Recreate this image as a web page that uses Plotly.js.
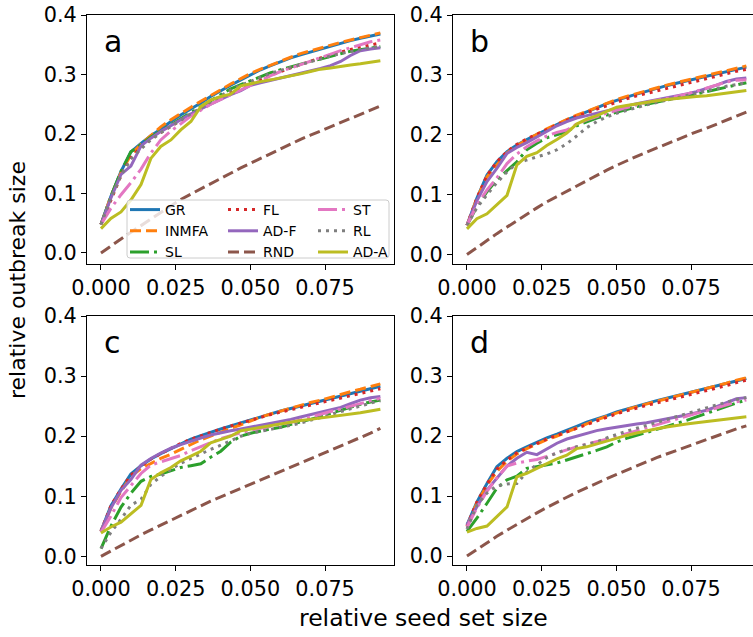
<!DOCTYPE html>
<html>
<head>
<meta charset="utf-8">
<script src="https://cdn.plot.ly/plotly-3.0.1.min.js"></script>
<style>
  html, body { margin: 0; padding: 0; overflow: hidden; background: #fff; }
  #chart { width: 761px; height: 637px; }
</style>
</head>
<body>
<div id="chart"></div>
<script>
// ---------------- DATA ----------------
const SERIES = ['GR', 'INMFA', 'SL', 'FL', 'AD-F', 'RND', 'ST', 'RL', 'AD-A'];
const PANEL_LABELS = ['a', 'b', 'c', 'd'];
const X_TICKS = [0, 0.025, 0.05, 0.075];
const Y_TICKS = [0, 0.1, 0.2, 0.3, 0.4];

// relative seed set size
const X = [0, 0.0033, 0.0067, 0.0100, 0.0134, 0.0167, 0.0200, 0.0234, 0.0267, 0.0301,
           0.0334, 0.0367, 0.0401, 0.0434, 0.0468, 0.0501, 0.0534, 0.0568, 0.0601, 0.0635,
           0.0668, 0.0701, 0.0735, 0.0768, 0.0802, 0.0835, 0.0868, 0.0902, 0.0935];

// panel a
const A_GR    = [0.048,0.095,0.137,0.170,0.184,0.197,0.208,0.221,0.232,0.242,0.252,0.263,0.273,0.282,0.291,0.300,0.308,0.315,0.322,0.328,0.333,0.338,0.343,0.348,0.352,0.357,0.361,0.365,0.368];
const A_INMFA = [0.048,0.095,0.135,0.165,0.183,0.198,0.212,0.224,0.235,0.245,0.255,0.265,0.275,0.284,0.293,0.302,0.309,0.316,0.323,0.329,0.335,0.340,0.345,0.350,0.354,0.358,0.362,0.366,0.370];
const A_SL    = [0.048,0.095,0.137,0.170,0.182,0.195,0.205,0.215,0.226,0.236,0.246,0.256,0.266,0.276,0.283,0.290,0.297,0.303,0.308,0.313,0.318,0.322,0.326,0.331,0.335,0.339,0.342,0.345,0.347];
const A_FL    = [0.048,0.090,0.130,0.160,0.178,0.192,0.203,0.213,0.223,0.233,0.243,0.252,0.261,0.270,0.278,0.285,0.292,0.299,0.305,0.311,0.317,0.323,0.328,0.333,0.338,0.342,0.346,0.350,0.353];
const A_ADF   = [0.048,0.092,0.132,0.146,0.180,0.193,0.204,0.214,0.224,0.234,0.242,0.250,0.258,0.266,0.273,0.282,0.286,0.290,0.293,0.297,0.302,0.306,0.310,0.315,0.322,0.332,0.340,0.343,0.345];
const A_RND   = [0,0.012,0.024,0.035,0.046,0.057,0.068,0.079,0.090,0.099,0.108,0.117,0.126,0.134,0.143,0.151,0.159,0.167,0.175,0.183,0.191,0.198,0.205,0.212,0.219,0.226,0.233,0.240,0.247];
const A_ST    = [0.048,0.075,0.098,0.118,0.141,0.168,0.190,0.205,0.217,0.230,0.240,0.250,0.258,0.266,0.275,0.283,0.290,0.298,0.305,0.311,0.317,0.323,0.329,0.335,0.340,0.345,0.350,0.355,0.358];
const A_RL    = [0.048,0.092,0.130,0.158,0.175,0.190,0.202,0.213,0.224,0.234,0.244,0.254,0.264,0.274,0.282,0.289,0.296,0.302,0.307,0.312,0.317,0.322,0.327,0.331,0.335,0.339,0.342,0.345,0.347];
const A_ADA   = [0.041,0.058,0.069,0.089,0.115,0.159,0.179,0.190,0.207,0.221,0.246,0.257,0.263,0.267,0.281,0.285,0.288,0.291,0.294,0.297,0.301,0.305,0.309,0.311,0.314,0.316,0.318,0.320,0.323];

// panel b
const B_GR    = [0.049,0.094,0.133,0.155,0.172,0.183,0.192,0.200,0.209,0.217,0.225,0.232,0.238,0.245,0.252,0.258,0.263,0.268,0.273,0.277,0.282,0.286,0.290,0.294,0.298,0.302,0.306,0.310,0.313];
const B_INMFA = [0.049,0.094,0.130,0.150,0.170,0.182,0.192,0.201,0.210,0.218,0.226,0.233,0.239,0.246,0.253,0.259,0.264,0.269,0.274,0.278,0.283,0.287,0.291,0.295,0.299,0.303,0.307,0.311,0.315];
const B_SL    = [0.049,0.080,0.105,0.125,0.140,0.155,0.175,0.186,0.195,0.200,0.205,0.215,0.222,0.228,0.233,0.238,0.243,0.247,0.251,0.255,0.258,0.261,0.264,0.268,0.272,0.276,0.280,0.284,0.287];
const B_FL    = [0.049,0.094,0.132,0.155,0.172,0.184,0.193,0.201,0.209,0.217,0.224,0.231,0.237,0.243,0.249,0.255,0.260,0.265,0.269,0.273,0.278,0.282,0.286,0.290,0.294,0.298,0.302,0.306,0.309];
const B_ADF   = [0.049,0.090,0.122,0.144,0.169,0.179,0.187,0.196,0.206,0.215,0.222,0.228,0.232,0.236,0.241,0.245,0.249,0.252,0.255,0.258,0.261,0.264,0.268,0.272,0.277,0.283,0.289,0.293,0.295];
const B_RND   = [0,0.012,0.024,0.035,0.046,0.057,0.068,0.078,0.088,0.097,0.106,0.115,0.124,0.133,0.141,0.149,0.157,0.164,0.171,0.178,0.185,0.192,0.198,0.205,0.211,0.218,0.224,0.231,0.238];
const B_ST    = [0.049,0.082,0.108,0.128,0.152,0.168,0.180,0.190,0.198,0.204,0.208,0.218,0.225,0.231,0.236,0.241,0.246,0.250,0.254,0.257,0.261,0.264,0.268,0.273,0.278,0.283,0.288,0.291,0.292];
const B_RL    = [0.049,0.078,0.100,0.120,0.138,0.152,0.158,0.163,0.168,0.175,0.185,0.198,0.212,0.222,0.230,0.236,0.241,0.246,0.250,0.254,0.258,0.262,0.266,0.270,0.274,0.278,0.281,0.284,0.287];
const B_ADA   = [0.043,0.060,0.068,0.084,0.099,0.150,0.164,0.170,0.182,0.192,0.203,0.218,0.226,0.232,0.239,0.246,0.249,0.252,0.254,0.257,0.259,0.261,0.262,0.264,0.265,0.267,0.269,0.272,0.274];

// panel c
const C_GR    = [0.042,0.084,0.112,0.137,0.151,0.162,0.171,0.179,0.187,0.195,0.201,0.207,0.212,0.217,0.222,0.228,0.233,0.238,0.242,0.246,0.250,0.254,0.258,0.262,0.266,0.270,0.274,0.279,0.283];
const C_INMFA = [0.042,0.080,0.108,0.133,0.146,0.155,0.163,0.170,0.178,0.186,0.194,0.200,0.207,0.213,0.219,0.226,0.232,0.237,0.242,0.247,0.251,0.256,0.260,0.265,0.269,0.274,0.278,0.283,0.287];
const C_SL    = [0.013,0.050,0.082,0.105,0.125,0.133,0.137,0.142,0.148,0.151,0.154,0.165,0.175,0.190,0.200,0.205,0.209,0.212,0.215,0.219,0.223,0.228,0.233,0.238,0.243,0.248,0.253,0.257,0.260];
const C_FL    = [0.042,0.084,0.112,0.135,0.150,0.162,0.171,0.180,0.188,0.195,0.201,0.207,0.212,0.217,0.222,0.227,0.232,0.236,0.240,0.244,0.248,0.252,0.256,0.260,0.264,0.268,0.272,0.276,0.279];
const C_ADF   = [0.042,0.080,0.110,0.128,0.152,0.163,0.172,0.180,0.186,0.192,0.197,0.202,0.206,0.209,0.212,0.215,0.218,0.221,0.225,0.228,0.232,0.236,0.240,0.244,0.248,0.254,0.260,0.264,0.266];
const C_RND   = [0,0.009,0.018,0.027,0.036,0.044,0.052,0.060,0.068,0.076,0.084,0.092,0.099,0.106,0.113,0.120,0.127,0.134,0.141,0.148,0.155,0.162,0.169,0.176,0.183,0.190,0.197,0.205,0.213];
const C_ST    = [0.040,0.067,0.098,0.117,0.138,0.152,0.157,0.162,0.168,0.176,0.183,0.190,0.196,0.201,0.206,0.210,0.213,0.216,0.219,0.223,0.227,0.232,0.237,0.241,0.245,0.250,0.255,0.259,0.263];
const C_RL    = [0.013,0.040,0.062,0.085,0.095,0.120,0.133,0.145,0.155,0.163,0.170,0.178,0.185,0.193,0.200,0.205,0.208,0.211,0.214,0.218,0.222,0.226,0.231,0.236,0.241,0.246,0.251,0.255,0.259];
const C_ADA   = [0.039,0.049,0.057,0.070,0.085,0.128,0.139,0.148,0.159,0.167,0.175,0.189,0.195,0.200,0.209,0.212,0.215,0.218,0.220,0.223,0.226,0.228,0.230,0.232,0.234,0.236,0.239,0.242,0.245];

// panel d
const D_GR    = [0.052,0.090,0.121,0.149,0.163,0.174,0.182,0.190,0.197,0.203,0.209,0.216,0.223,0.228,0.234,0.240,0.245,0.250,0.255,0.259,0.263,0.267,0.271,0.275,0.279,0.283,0.287,0.292,0.296];
const D_INMFA = [0.050,0.088,0.118,0.141,0.158,0.170,0.179,0.187,0.194,0.200,0.207,0.214,0.221,0.227,0.233,0.239,0.244,0.249,0.254,0.258,0.262,0.267,0.271,0.275,0.279,0.284,0.288,0.293,0.297];
const D_SL    = [0.041,0.063,0.088,0.113,0.127,0.133,0.146,0.149,0.152,0.155,0.160,0.165,0.170,0.176,0.182,0.190,0.196,0.201,0.206,0.211,0.216,0.221,0.226,0.232,0.238,0.244,0.250,0.255,0.260];
const D_FL    = [0.050,0.090,0.120,0.145,0.160,0.172,0.180,0.188,0.195,0.201,0.207,0.213,0.220,0.225,0.231,0.237,0.242,0.247,0.251,0.255,0.259,0.263,0.267,0.271,0.275,0.279,0.284,0.289,0.293];
const D_ADF   = [0.052,0.082,0.110,0.130,0.150,0.163,0.173,0.169,0.179,0.188,0.195,0.200,0.205,0.209,0.212,0.215,0.218,0.220,0.222,0.225,0.228,0.231,0.235,0.239,0.243,0.249,0.256,0.262,0.264];
const D_RND   = [0,0.011,0.022,0.033,0.043,0.053,0.063,0.072,0.081,0.090,0.098,0.106,0.114,0.122,0.129,0.136,0.143,0.150,0.157,0.164,0.170,0.176,0.182,0.188,0.194,0.200,0.206,0.212,0.217];
const D_ST    = [0.048,0.080,0.108,0.130,0.150,0.155,0.158,0.161,0.166,0.172,0.177,0.182,0.186,0.190,0.195,0.199,0.204,0.209,0.214,0.219,0.224,0.229,0.234,0.238,0.242,0.247,0.252,0.257,0.260];
const D_RL    = [0.045,0.085,0.105,0.117,0.120,0.121,0.140,0.152,0.164,0.172,0.178,0.182,0.186,0.190,0.197,0.203,0.208,0.213,0.218,0.222,0.227,0.232,0.237,0.242,0.247,0.252,0.257,0.261,0.264];
const D_ADA   = [0.040,0.046,0.050,0.066,0.082,0.132,0.138,0.146,0.154,0.162,0.168,0.179,0.182,0.187,0.191,0.196,0.201,0.205,0.209,0.212,0.215,0.218,0.220,0.222,0.224,0.225,0.227,0.229,0.232];

// ---------------- STYLE / LAYOUT ----------------
const FONT = 'DejaVu Sans';
const W = 761, H = 637;
const COLORS = ['#1f77b4', '#ff7f0e', '#2ca02c', '#d62728', '#9467bd', '#8c564b', '#e377c2', '#7f7f7f', '#bcbd22'];
const DASHES = ['solid', '11px,5px', '19px,5px,3px,5px', '3px,5px', 'solid', '11px,5px', '19px,5px,3px,5px', '3px,5px', 'solid'];
const LEGENDS = ['legend', 'legend', 'legend', 'legend2', 'legend2', 'legend2', 'legend3', 'legend3', 'legend3'];

const PANELS = [
  {ys: [A_GR, A_INMFA, A_SL, A_FL, A_ADF, A_RND, A_ST, A_RL, A_ADA], xa: 'x',  ya: 'y'},
  {ys: [B_GR, B_INMFA, B_SL, B_FL, B_ADF, B_RND, B_ST, B_RL, B_ADA], xa: 'x2', ya: 'y2'},
  {ys: [C_GR, C_INMFA, C_SL, C_FL, C_ADF, C_RND, C_ST, C_RL, C_ADA], xa: 'x3', ya: 'y3'},
  {ys: [D_GR, D_INMFA, D_SL, D_FL, D_ADF, D_RND, D_ST, D_RL, D_ADA], xa: 'x4', ya: 'y4'}
];

const traces = [];
PANELS.forEach((p, pi) => {
  p.ys.forEach((ys, si) => {
    traces.push({
      type: 'scatter', mode: 'lines',
      x: X, y: ys,
      xaxis: p.xa, yaxis: p.ya,
      name: SERIES[si],
      legend: LEGENDS[si],
      showlegend: pi === 0,
      line: {color: COLORS[si], width: 3, dash: DASHES[si]},
      hoverinfo: 'skip'
    });
  });
});

// pixel geometry helpers
const px = v => v / W;
const py = v => 1 - v / H;

const COL_X = [[87, 394.4], [453, 760.4]];
const ROW_Y = [[15, 264], [316, 565]];
const Y_RANGES = [[-0.0185, 0.4], [-0.0157, 0.4], [-0.0143, 0.4], [-0.0149, 0.4]];

function xAxis(col, anchor) {
  return {
    domain: [px(COL_X[col][0]), px(COL_X[col][1])],
    range: [-0.00468, 0.0982],
    anchor: anchor,
    tickmode: 'array', tickvals: X_TICKS, tickformat: '.3f',
    ticks: 'outside', ticklen: 5, tickwidth: 1, tickcolor: '#000',
    showline: true, mirror: true, linecolor: '#000', linewidth: 1,
    showgrid: false, zeroline: false,
    tickfont: {family: FONT, size: 20.8, color: '#000'},
    fixedrange: true
  };
}
function yAxis(row, anchor, rng) {
  return {
    domain: [py(ROW_Y[row][1]), py(ROW_Y[row][0])],
    range: rng,
    anchor: anchor,
    tickmode: 'array', tickvals: Y_TICKS, tickformat: '.1f',
    ticks: 'outside', ticklen: 5, tickwidth: 1, tickcolor: '#000',
    showline: true, mirror: true, linecolor: '#000', linewidth: 1,
    showgrid: false, zeroline: false,
    tickfont: {family: FONT, size: 20.8, color: '#000'},
    fixedrange: true
  };
}

const legendBase = {
  bgcolor: 'rgba(0,0,0,0)', borderwidth: 0,
  font: {family: FONT, size: 14, color: '#000'},
  xanchor: 'left', yanchor: 'top', orientation: 'v',
  tracegroupgap: 0, itemwidth: 30, traceorder: 'normal'
};

// legend frame (rounded)
const bx0 = 127, bx1 = 389, by0 = 200, by1 = 258, r = 3;
const framePath =
  `M${px(bx0 + r)},${py(by0)} L${px(bx1 - r)},${py(by0)} Q${px(bx1)},${py(by0)} ${px(bx1)},${py(by0 + r)} ` +
  `L${px(bx1)},${py(by1 - r)} Q${px(bx1)},${py(by1)} ${px(bx1 - r)},${py(by1)} ` +
  `L${px(bx0 + r)},${py(by1)} Q${px(bx0)},${py(by1)} ${px(bx0)},${py(by1 - r)} ` +
  `L${px(bx0)},${py(by0 + r)} Q${px(bx0)},${py(by0)} ${px(bx0 + r)},${py(by0)} Z`;

const letterPos = [[102, 41.6], [468, 41.6], [102, 342.6], [468, 342.6]];
const annotations = PANEL_LABELS.map((t, i) => ({
  text: t, xref: 'paper', yref: 'paper',
  x: px(letterPos[i][0]), y: py(letterPos[i][1]),
  xanchor: 'left', yanchor: 'middle', showarrow: false,
  font: {family: FONT, size: 30, color: '#000'}
}));
annotations.push({
  text: 'relative seed set size', xref: 'paper', yref: 'paper',
  x: px(423), y: py(618), xanchor: 'center', yanchor: 'middle', showarrow: false,
  font: {family: FONT, size: 23.5, color: '#000'}
});
annotations.push({
  text: 'relative outbreak size', xref: 'paper', yref: 'paper',
  x: px(17), y: py(280), xanchor: 'center', yanchor: 'middle', showarrow: false,
  textangle: -90,
  font: {family: FONT, size: 22, color: '#000'}
});

const layout = {
  width: W, height: H, autosize: false,
  margin: {l: 0, r: 0, t: 0, b: 0, pad: 0},
  paper_bgcolor: '#fff', plot_bgcolor: '#fff',
  font: {family: FONT, color: '#000'},
  xaxis: xAxis(0, 'y'),   yaxis: yAxis(0, 'x', Y_RANGES[0]),
  xaxis2: xAxis(1, 'y2'), yaxis2: yAxis(0, 'x2', Y_RANGES[1]),
  xaxis3: xAxis(0, 'y3'), yaxis3: yAxis(1, 'x3', Y_RANGES[2]),
  xaxis4: xAxis(1, 'y4'), yaxis4: yAxis(1, 'x4', Y_RANGES[3]),
  legend:  Object.assign({}, legendBase, {x: px(125), y: py(194)}),
  legend2: Object.assign({}, legendBase, {x: px(223), y: py(194)}),
  legend3: Object.assign({}, legendBase, {x: px(313), y: py(194)}),
  shapes: [{
    type: 'path', xref: 'paper', yref: 'paper', path: framePath,
    fillcolor: 'rgba(255,255,255,0.8)', line: {color: '#cccccc', width: 1}, layer: 'above'
  }],
  annotations: annotations,
  showlegend: true
};

Plotly.newPlot('chart', traces, layout, {displayModeBar: false, staticPlot: true});
</script>
</body>
</html>
